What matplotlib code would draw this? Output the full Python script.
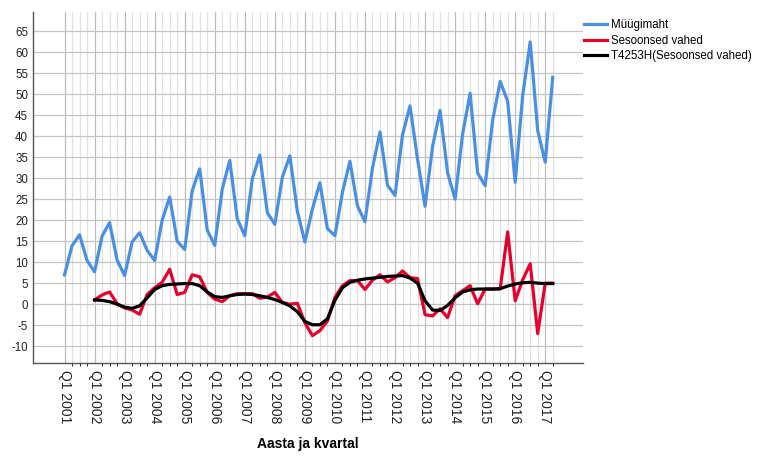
import numpy as np
import matplotlib
matplotlib.use("Agg")
import matplotlib.pyplot as plt

plt.rcParams['font.family'] = ['Liberation Sans', 'DejaVu Sans']
plt.rcParams['axes.unicode_minus'] = False

# Quarterly series, Q1 2001 .. Q2 2017
years = list(range(2001, 2018))
muugimaht = [7.0, 13.9, 16.5, 10.4, 7.7, 16.2, 19.4, 10.5, 6.8, 14.8, 17.0, 12.8,
             10.4, 20.0, 25.5, 15.0, 13.0, 27.0, 32.2, 17.6, 14.0, 27.4, 34.2, 20.3,
             16.3, 29.8, 35.5, 21.8, 19.0, 30.2, 35.3, 22.1, 14.8, 22.6, 28.9, 18.0,
             16.3, 26.6, 34.0, 23.4, 19.6, 32.4, 41.0, 28.3, 25.9, 40.3, 47.2, 34.5,
             23.3, 37.5, 46.1, 31.3, 25.0, 40.5, 50.2, 31.2, 28.2, 43.8, 53.0, 48.3,
             29.0, 49.7, 62.4, 41.3, 33.8, 54.0]
# seasonal differences start at Q1 2002
sesoonsed = [1.0, 2.2, 2.9, 0.1, -0.9, -1.4, -2.4, 2.3, 3.9, 5.2, 8.3, 2.3,
             2.8, 7.0, 6.5, 2.8, 1.2, 0.6, 2.0, 2.5, 2.5, 2.5, 1.4, 1.7,
             2.8, 0.4, 0.0, 0.2, -4.4, -7.5, -6.3, -4.0, 1.6, 4.4, 5.6, 5.6,
             3.5, 5.7, 7.0, 5.3, 6.3, 7.9, 6.3, 6.1, -2.5, -2.8, -1.1, -3.2,
             2.0, 3.2, 4.4, 0.1, 3.6, 3.6, 3.6, 17.2, 0.8, 5.8, 9.6, -7.0,
             5.0, 5.0]
t4253h = [1.0, 0.9, 0.6, 0.0, -0.7, -1.0, -0.4, 1.5, 3.5, 4.4, 4.7, 4.8,
          4.9, 4.9, 4.4, 2.9, 1.8, 1.6, 2.0, 2.3, 2.4, 2.3, 2.0, 1.6,
          1.1, 0.4, -0.4, -1.8, -4.1, -4.9, -4.9, -3.5, 0.9, 3.9, 5.2, 5.7,
          6.0, 6.2, 6.4, 6.6, 6.7, 6.8, 6.2, 5.0, 0.8, -1.4, -1.5, -0.3,
          1.5, 2.9, 3.4, 3.6, 3.6, 3.6, 3.7, 4.3, 4.8, 5.1, 5.2, 5.0,
          4.9, 4.9]

n = len(muugimaht)
x = np.arange(n)
x_diff = np.arange(n - len(sesoonsed), n)

fig = plt.figure(figsize=(7.76, 4.68), dpi=100)
ax = fig.add_axes([0.0425, 0.2244, 0.7085, 0.7496])

ax.plot(x, muugimaht, color='#4a8fe2', lw=2.3, label='Müügimaht', zorder=3)
ax.plot(x_diff, sesoonsed, color='#e8002d', lw=2.3, label='Sesoonsed vahed', zorder=4)
ax.plot(x_diff, t4253h, color='black', lw=2.3, label='T4253H(Sesoonsed vahed)', zorder=5)

ax.set_xlim(-4.2, 69)
ax.set_ylim(-14, 69.5)

ax.set_yticks(np.arange(-10, 70, 5))
ax.set_xticks(np.arange(0, n, 4))
ax.set_xticklabels(['Q1 %d' % y for y in years], rotation=270)
ax.set_xticks(np.arange(n), minor=True)
ax.tick_params(axis='both', length=0, labelsize=8.3, colors='#222222')
ax.tick_params(axis='x', pad=5, labelsize=10)

ax.grid(axis='y', color='#c4c4c4', lw=0.9)
ax.grid(axis='x', which='major', color='#bdbdbd', lw=0.9)
ax.grid(axis='x', which='minor', color='#e2e2e2', lw=0.9)
ax.set_axisbelow(True)

for s in ['top', 'right']:
    ax.spines[s].set_visible(False)
for s in ['left', 'bottom']:
    ax.spines[s].set_color('#555555')
    ax.spines[s].set_linewidth(1.0)

ax.set_xlabel('Aasta ja kvartal', fontsize=10, fontweight='bold', labelpad=10)

ax.legend(loc='upper left', bbox_to_anchor=(0.99, 1.0), frameon=False,
          fontsize=8.3, handlelength=2.0, handletextpad=0.3, labelspacing=0.3,
          borderaxespad=0.2)

fig.savefig('out.png', dpi=100)
